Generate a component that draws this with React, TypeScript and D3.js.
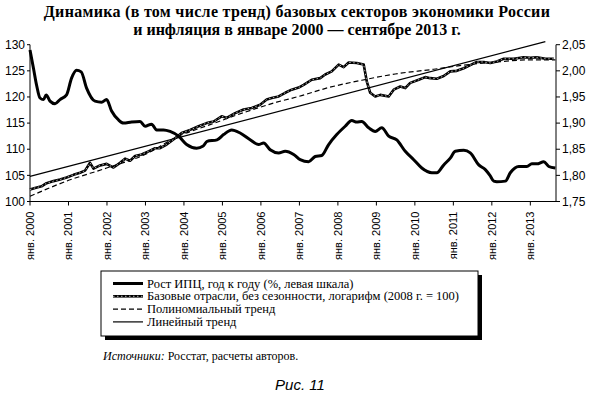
import React from 'react';
import * as d3 from 'd3';

// values; time is in decimal years
const cpi: [number, number][] = [
  [2000.0, 129.0], [2000.09, 125.5], [2000.17, 122.3], [2000.26, 119.8], [2000.35, 119.5],
  [2000.42, 120.4], [2000.52, 119.2], [2000.65, 118.7], [2000.78, 119.5], [2000.95, 120.4],
  [2001.08, 123.6], [2001.21, 125.1], [2001.33, 124.8], [2001.47, 121.7], [2001.69, 119.2],
  [2001.86, 119.0], [2001.99, 119.5], [2002.12, 117.3], [2002.3, 115.6], [2002.43, 115.0],
  [2002.64, 115.2], [2002.86, 115.3], [2002.99, 114.4], [2003.16, 114.8], [2003.29, 113.7],
  [2003.47, 113.7], [2003.64, 113.4], [2003.86, 112.5], [2004.07, 110.9], [2004.33, 110.2],
  [2004.5, 110.6], [2004.6, 111.5], [2004.86, 111.8], [2005.03, 112.8], [2005.24, 113.7],
  [2005.46, 113.1], [2005.72, 111.8], [2005.94, 110.9], [2006.07, 111.2], [2006.24, 109.9],
  [2006.46, 109.3], [2006.63, 109.6], [2006.85, 109.0], [2007.02, 108.0], [2007.24, 107.6],
  [2007.41, 108.6], [2007.58, 108.8], [2007.76, 110.9], [2007.97, 112.8], [2008.19, 114.4],
  [2008.36, 115.5], [2008.49, 115.2], [2008.62, 115.3], [2008.8, 114.1], [2008.97, 113.4],
  [2009.14, 114.1], [2009.32, 112.5], [2009.53, 111.8], [2009.75, 109.6], [2009.97, 108.0],
  [2010.18, 106.4], [2010.44, 105.5], [2010.57, 105.5], [2010.75, 107.0], [2010.92, 108.3],
  [2011.05, 109.6], [2011.27, 109.8], [2011.44, 109.3], [2011.66, 107.0], [2011.83, 106.1],
  [2011.95, 105.0], [2012.05, 103.9], [2012.13, 103.8], [2012.35, 103.9], [2012.48, 105.5],
  [2012.7, 106.7], [2012.91, 106.7], [2013.04, 107.2], [2013.17, 107.2], [2013.35, 107.6],
  [2013.48, 106.7], [2013.65, 106.4],
];

const baseSectors: [number, number][] = [
  [2000.0, 1.773], [2000.13, 1.776], [2000.3, 1.779], [2000.43, 1.785], [2000.61, 1.789],
  [2000.78, 1.792], [2000.95, 1.796], [2001.13, 1.801], [2001.3, 1.805], [2001.43, 1.809],
  [2001.56, 1.824], [2001.65, 1.813], [2001.82, 1.819], [2001.99, 1.822], [2002.17, 1.815],
  [2002.34, 1.824], [2002.47, 1.832], [2002.6, 1.828], [2002.73, 1.837], [2002.9, 1.840],
  [2003.08, 1.846], [2003.25, 1.852], [2003.38, 1.852], [2003.55, 1.859], [2003.77, 1.871],
  [2003.94, 1.881], [2004.16, 1.887], [2004.38, 1.894], [2004.59, 1.900], [2004.77, 1.903],
  [2004.98, 1.913], [2005.11, 1.910], [2005.33, 1.919], [2005.55, 1.926], [2005.76, 1.929],
  [2005.98, 1.935], [2006.15, 1.945], [2006.28, 1.948], [2006.46, 1.951], [2006.63, 1.958],
  [2006.8, 1.964], [2006.98, 1.968], [2007.11, 1.973], [2007.32, 1.983], [2007.54, 1.986],
  [2007.67, 1.993], [2007.84, 1.999], [2008.02, 2.012], [2008.15, 2.007], [2008.28, 2.016],
  [2008.49, 2.015], [2008.67, 2.012], [2008.75, 1.980], [2008.84, 1.958], [2008.97, 1.951],
  [2009.1, 1.954], [2009.32, 1.951], [2009.45, 1.964], [2009.62, 1.970], [2009.75, 1.967],
  [2009.88, 1.977], [2010.1, 1.983], [2010.27, 1.988], [2010.4, 1.986], [2010.57, 1.985],
  [2010.75, 1.990], [2010.92, 1.999], [2011.09, 2.000], [2011.27, 2.005], [2011.44, 2.011],
  [2011.61, 2.017], [2011.79, 2.017], [2011.96, 2.015], [2012.13, 2.018], [2012.31, 2.023],
  [2012.57, 2.023], [2012.83, 2.026], [2013.0, 2.025], [2013.17, 2.026], [2013.39, 2.023],
  [2013.61, 2.023],
];

const polyTrend: [number, number][] = [
  [2000.0, 1.760], [2000.95, 1.789], [2001.99, 1.814], [2002.99, 1.840], [2003.86, 1.875],
  [2004.68, 1.897], [2005.55, 1.920], [2006.41, 1.940], [2006.98, 1.951], [2007.76, 1.968],
  [2008.62, 1.982], [2009.49, 1.994], [2010.49, 2.003], [2011.27, 2.011], [2012.13, 2.017],
  [2013.0, 2.021], [2013.65, 2.021],
];

const linearTrend: [number, number][] = [[2000.0, 1.798], [2013.39, 2.056]];

const years = d3.range(2000, 2014);
const leftTicks = [100, 105, 110, 115, 120, 125, 130];
const rightTicks = [1.75, 1.8, 1.85, 1.9, 1.95, 2.0, 2.05];

const title = [
  'Динамика (в том числе тренд) базовых секторов экономики России',
  'и инфляция в январе 2000 — сентябре 2013 г.',
];
const legendItems = [
  'Рост ИПЦ, год к году (%, левая шкала)',
  'Базовые отрасли, без сезонности, логарифм (2008 г. = 100)',
  'Полиномиальный тренд',
  'Линейный тренд',
];

const sans = '"Liberation Sans", Arial, sans-serif';
const serif = '"Liberation Serif", "Times New Roman", serif';

export default function App() {
  const W = 595, H = 397;
  const x = d3.scaleLinear().domain([2000, 2013.667]).range([30, 556]);
  const yL = d3.scaleLinear().domain([100, 130]).range([201.5, 44.7]);
  const yR = d3.scaleLinear().domain([1.75, 2.05]).range([201.5, 44.7]);

  const lineL = d3.line<[number, number]>().x(d => x(d[0])).y(d => yL(d[1])).curve(d3.curveMonotoneX);
  const lineR = d3.line<[number, number]>().x(d => x(d[0])).y(d => yR(d[1]));
  const smoothR = d3.line<[number, number]>().x(d => x(d[0])).y(d => yR(d[1])).curve(d3.curveMonotoneX);

  const x0 = x.range()[0], x1 = x.range()[1];
  const yb = yL.range()[0], yt = yL.range()[1];

  const lg = { x: 101, y: 271, w: 377, h: 65 };
  const rows = [283.5, 296.3, 309.1, 321.9];

  return (
    <svg width={W} height={H} style={{ position: 'absolute', left: 0, top: 0, background: '#fff' }}>
      {title.map((t, i) => (
        <text key={i} x={297} y={17 + i * 18} textAnchor="middle" fontFamily={serif}
          fontWeight="bold" fontSize={16} letterSpacing={i === 0 ? 0.3 : 0}>{t}</text>
      ))}

      {/* axes */}
      <line x1={x0} x2={x0} y1={yt} y2={yb} stroke="#000" />
      <line x1={x1} x2={x1} y1={yt} y2={yb} stroke="#000" />
      <line x1={x0} x2={x1} y1={yb} y2={yb} stroke="#000" />
      {leftTicks.map(v => (
        <g key={v}>
          <line x1={x0 - 3} x2={x0} y1={yL(v)} y2={yL(v)} stroke="#000" />
          <text x={x0 - 5} y={yL(v)} dy="0.35em" textAnchor="end" fontFamily={sans} fontSize={12}>{v}</text>
        </g>
      ))}
      {rightTicks.map(v => (
        <g key={v}>
          <line x1={x1} x2={x1 + 4} y1={yR(v)} y2={yR(v)} stroke="#000" />
          <text x={x1 + 6} y={yR(v)} dy="0.35em" fontFamily={sans} fontSize={12}>
            {d3.format('.2f')(v).replace('.', ',')}
          </text>
        </g>
      ))}
      {years.map(yr => (
        <g key={yr}>
          <line x1={x(yr)} x2={x(yr)} y1={yb} y2={yb + 4} stroke="#000" />
          <text transform={`translate(${x(yr)},${yb + 10}) rotate(-90)`} dy="0.35em" textAnchor="end"
            fontFamily={sans} fontSize={11}>{`янв. ${yr}`}</text>
        </g>
      ))}

      {/* series */}
      <path d={lineR(linearTrend) || ''} fill="none" stroke="#000" strokeWidth={1.2} />
      <path d={smoothR(polyTrend) || ''} fill="none" stroke="#000" strokeWidth={1.2} strokeDasharray="5,3" />
      <path d={lineR(baseSectors) || ''} fill="none" stroke="#000" strokeWidth={2.6} strokeLinejoin="round" />
      <path d={lineR(baseSectors) || ''} fill="none" stroke="#fff" strokeWidth={0.7} strokeDasharray="1.5,2.5" />
      <path d={lineL(cpi) || ''} fill="none" stroke="#000" strokeWidth={3} strokeLinejoin="round" />

      {/* legend */}
      <rect x={lg.x + 4} y={lg.y + 4} width={lg.w} height={lg.h} fill="#000" />
      <rect x={lg.x} y={lg.y} width={lg.w} height={lg.h} fill="#fff" stroke="#000" />
      <line x1={113} x2={143} y1={rows[0]} y2={rows[0]} stroke="#000" strokeWidth={3} />
      <line x1={113} x2={143} y1={rows[1]} y2={rows[1]} stroke="#000" strokeWidth={2.6} />
      <line x1={113} x2={143} y1={rows[1]} y2={rows[1]} stroke="#fff" strokeWidth={0.7} strokeDasharray="1.5,2.5" />
      <line x1={113} x2={143} y1={rows[2]} y2={rows[2]} stroke="#000" strokeWidth={1.2} strokeDasharray="5,3" />
      <line x1={113} x2={143} y1={rows[3]} y2={rows[3]} stroke="#000" strokeWidth={1.2} />
      {legendItems.map((t, i) => (
        <text key={i} x={147} y={rows[i]} dy="0.33em" fontFamily={serif} fontSize={12.5}>{t}</text>
      ))}

      <text x={103} y={360} fontFamily={serif} fontSize={12}>
        <tspan fontStyle="italic">Источники:</tspan> Росстат, расчеты авторов.
      </text>
      <text x={300} y={390} textAnchor="middle" fontFamily={sans} fontStyle="italic" fontSize={15}>Рис. 11</text>
    </svg>
  );
}
